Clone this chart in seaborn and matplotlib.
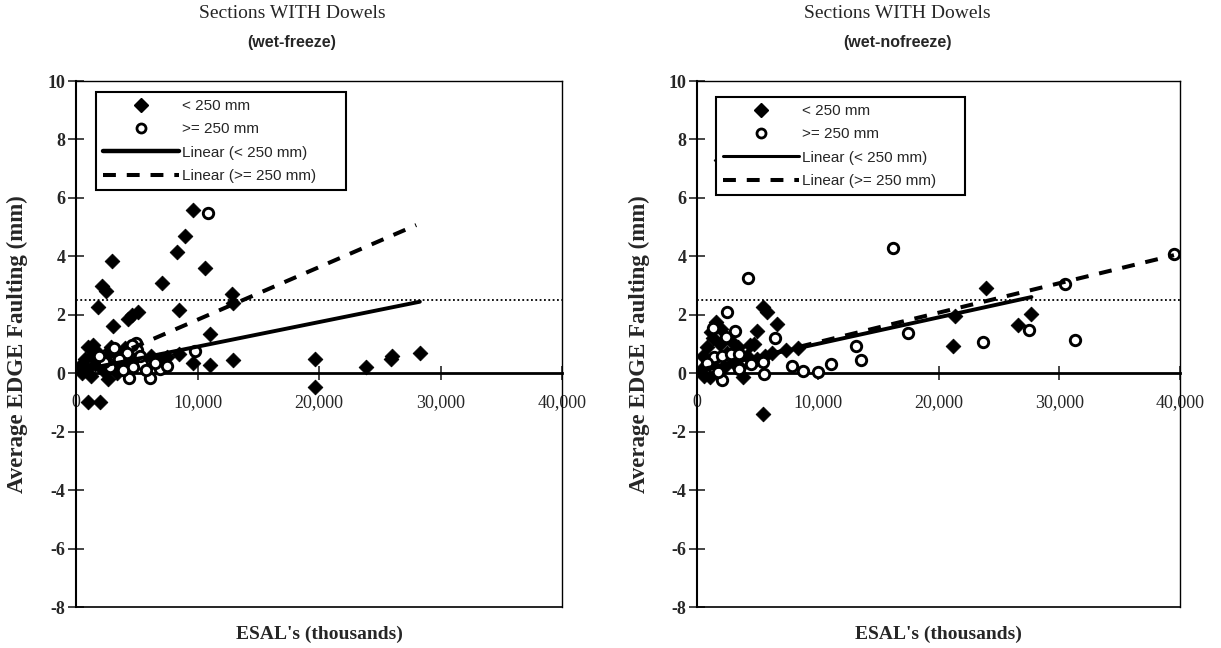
import numpy as np
import pandas as pd
import matplotlib
matplotlib.use("Agg")
import matplotlib.pyplot as plt
from matplotlib.lines import Line2D
from matplotlib.ticker import FuncFormatter, MultipleLocator
import seaborn as sns

# ---- wet-freeze sections (ESALs in thousands, faulting in mm) ----
wf_thin_x = [8.3, 3.0, 10.6, 7.05, 2.15, 2.45, 12.8, 12.95, 1.85, 8.5, 5.1, 4.6, 4.3, 3.05,
             11.0, 1.0, 1.3, 0.9, 9.65, 11.0, 12.9, 19.7, 19.7, 1.0, 2.0, 2.6, 9.0, 9.6,
             23.9, 25.9, 26.0, 28.3, 0.5, 0.7, 1.4, 1.6, 1.8, 2.2, 2.4, 2.8, 3.2, 3.4,
             3.6, 4.0, 4.2, 4.8, 5.5, 6.2, 6.8, 7.5, 8.5, 0.3, 1.2, 2.9, 3.8]
wf_thin_y = [4.15, 3.85, 3.6, 3.1, 3.0, 2.8, 2.7, 2.4, 2.27, 2.15, 2.1, 2.0, 1.87, 1.6,
             1.35, 0.9, 0.6, 0.15, 0.35, 0.27, 0.45, 0.5, -0.47, -1.0, -1.0, -0.2, 4.7, 5.6,
             0.2, 0.5, 0.6, 0.7, 0.0, 0.5, 0.95, 0.3, 0.7, 0.1, 0.5, 0.8, 0.3, 0.0,
             0.6, 0.85, 0.2, 0.4, 0.5, 0.6, 0.45, 0.55, 0.65, 0.25, -0.1, 0.9, 0.45]
wf_thick_x = [10.9, 6.1, 6.9, 7.5, 4.4, 3.9, 4.9, 5.0, 4.6, 4.2, 3.5, 5.4, 5.8, 6.5,
              2.8, 3.1, 2.3, 9.8, 5.3, 1.9, 4.7]
wf_thick_y = [5.5, -0.15, 0.15, 0.25, -0.15, 0.1, 1.05, 0.8, 0.95, 0.7, 0.5, 0.3, 0.1, 0.35,
              0.2, 0.85, 0.4, 0.75, 0.6, 0.6, 0.2]

# ---- wet-nofreeze sections ----
wn_thin_x = [23.9, 21.4, 21.2, 26.6, 27.7, 5.44, 5.44, 5.8, 6.65, 4.94, 1.6, 7.4, 8.4,
             3.8, 1.1, 1.95, 0.3, 0.5, 0.8, 1.0, 1.3, 1.5, 1.9, 2.2, 2.5, 2.8, 3.0, 3.4,
             3.6, 4.1, 4.4, 4.7, 5.0, 5.6, 6.2, 2.0, 1.2, 0.6]
wn_thin_y = [2.93, 1.95, 0.92, 1.64, 2.02, -1.4, 2.27, 2.1, 1.68, 1.45, 1.76, 0.79, 0.88,
             -0.13, -0.13, 7.3, 0.1, 0.6, 0.9, 0.3, 1.2, 0.5, 1.0, 0.2, 0.7, 1.1, 0.4, 0.9,
             0.2, 0.6, 0.95, 1.0, 0.5, 0.6, 0.7, 1.5, 1.4, -0.1]
wn_thick_x = [16.25, 4.25, 2.46, 1.3, 3.15, 6.46, 13.2, 13.6, 11.1, 7.9, 8.75, 10.05, 5.55,
              2.04, 5.5, 17.5, 23.7, 27.5, 31.3, 30.5, 39.5, 1.4, 2.1, 2.8, 3.5, 3.5, 2.4,
              0.8, 1.7, 4.5]
wn_thick_y = [4.3, 3.25, 2.1, 1.55, 1.45, 1.2, 0.92, 0.45, 0.31, 0.24, 0.08, 0.05, -0.02,
              -0.22, 0.4, 1.36, 1.07, 1.47, 1.15, 3.05, 4.07, 0.55, 0.6, 0.65, 0.65, 0.15, 1.25,
              0.35, 0.05, 0.3]

# linear trend lines: intercept (mm), slope (mm per thousand ESALs), x range (thousands)
wf_thin_fit = [0.07, 0.084, 0.3, 28.3]
wf_thick_fit = [0.03, 0.18, 1.0, 28.0]
wn_thin_fit = [0.10, 0.0905, 0.3, 27.7]
wn_thick_fit = [0.05, 0.101, 0.8, 39.5]

threshold = 2.5
panel_titles = ["(wet-freeze)", "(wet-nofreeze)"]
main_title = "Sections WITH Dowels"
legend_labels = ["< 250 mm", ">= 250 mm", "Linear (< 250 mm)", "Linear (>= 250 mm)"]
x_label = "ESAL's (thousands)"
y_label = "Average EDGE Faulting (mm)"

sns.set_style("white")
plt.rcParams["font.family"] = ["Liberation Serif", "DejaVu Serif"]

W, H = 1221, 648
fig = plt.figure(figsize=(W / 100, H / 100), dpi=100)

SERIF = "Liberation Serif"
SANS = "Liberation Sans"
dash_style = (0, (3.2, 2.7))


def fit_frame(fit):
    b0, b1, x0, x1 = fit
    xs = np.array([x0, x1]) * 1000.0
    return pd.DataFrame({"x": xs, "y": b0 + b1 * xs / 1000.0})


def panel(ax, thin_x, thin_y, thick_x, thick_y, thin_fit, thick_fit):
    thin = pd.DataFrame({"x": np.array(thin_x) * 1000.0, "y": thin_y})
    thick = pd.DataFrame({"x": np.array(thick_x) * 1000.0, "y": thick_y})

    ax.axhline(threshold, color="black", lw=1.3, ls=(0, (1, 1.4)), zorder=1)
    sns.scatterplot(data=thin, x="x", y="y", ax=ax, marker="D", color="black",
                    s=56, edgecolor="black", linewidth=0.6, zorder=3, legend=False)
    sns.scatterplot(data=thick, x="x", y="y", ax=ax, marker="o", color="white",
                    s=56, edgecolor="black", linewidth=2.1, zorder=4, legend=False)
    sns.lineplot(data=fit_frame(thin_fit), x="x", y="y", ax=ax, color="black",
                 lw=2.8, zorder=5)
    sns.lineplot(data=fit_frame(thick_fit), x="x", y="y", ax=ax, color="black",
                 lw=2.9, ls=dash_style, zorder=5)

    ax.set_xlim(0, 40000)
    ax.set_ylim(-8, 10)
    ax.xaxis.set_major_locator(MultipleLocator(10000))
    ax.yaxis.set_major_locator(MultipleLocator(2))
    ax.xaxis.set_major_formatter(FuncFormatter(lambda v, p: f"{v:,.0f}"))
    ax.yaxis.set_major_formatter(FuncFormatter(lambda v, p: f"{v:.0f}"))

    for side in ["left", "top", "right", "bottom"]:
        ax.spines[side].set_visible(True)
        ax.spines[side].set_color("black")
    ax.spines["left"].set_linewidth(1.5)
    ax.spines["top"].set_linewidth(1.0)
    ax.spines["right"].set_linewidth(1.0)
    ax.spines["bottom"].set_position(("data", 0))
    ax.spines["bottom"].set_linewidth(2.0)
    # closing line of the plot frame at the lower limit
    ax.plot([0, 1], [0, 0], transform=ax.transAxes, color="black", lw=1.2,
            clip_on=False, zorder=6)

    ax.tick_params(axis="x", direction="inout", length=10, width=1.2, pad=10,
                   labelsize=13, bottom=True)
    ax.tick_params(axis="y", direction="inout", length=11, width=1.2, pad=2,
                   labelsize=13, left=True)
    for t in ax.get_xticklabels():
        t.set_fontfamily(SERIF)
    for t in ax.get_yticklabels():
        t.set_fontfamily(SERIF)
        t.set_fontweight("bold")

    ax.set_xlabel(x_label, fontfamily=SERIF, fontweight="bold", fontsize=14)
    ax.xaxis.set_label_coords(0.5, -0.036)
    ax.set_ylabel(y_label, fontfamily=SERIF, fontweight="bold", fontsize=16.5)
    ax.grid(False)


ax1 = fig.add_axes([76 / W, 41 / H, 486 / W, 526 / H])
ax2 = fig.add_axes([697 / W, 41 / H, 483 / W, 526 / H])

panel(ax1, wf_thin_x, wf_thin_y, wf_thick_x, wf_thick_y, wf_thin_fit, wf_thick_fit)
panel(ax2, wn_thin_x, wn_thin_y, wn_thick_x, wn_thick_y, wn_thin_fit, wn_thick_fit)
ax1.yaxis.set_label_coords(-0.098, 0.5)
ax2.yaxis.set_label_coords(-0.098, 0.5)


def add_legend(ax, x0, y_top, width, solid_lw):
    handles = [
        Line2D([], [], marker="D", color="black", ls="none", markersize=7),
        Line2D([], [], marker="o", color="black", mfc="white", mew=2.0, ls="none",
               markersize=6.5),
        Line2D([], [], color="black", lw=solid_lw),
        Line2D([], [], color="black", lw=2.9, ls=dash_style),
    ]
    leg = ax.legend(handles, legend_labels, loc="upper left", mode="expand",
                    bbox_to_anchor=(x0, y_top - 0.3, width, 0.3),
                    prop={"family": SANS, "size": 11}, frameon=True,
                    fancybox=False, edgecolor="black", framealpha=1.0,
                    borderpad=0.45, labelspacing=0.62, handlelength=5.0,
                    handletextpad=0.2, borderaxespad=0.0)
    leg.get_frame().set_linewidth(1.5)
    leg.set_zorder(10)
    return leg


add_legend(ax1, 20 / 486, 1 - 11 / 526, 250 / 486, 3.2)
add_legend(ax2, 19 / 483, 1 - 16 / 526, 249 / 483, 2.2)

for cx, sub in zip([292, 897], panel_titles):
    fig.text(cx / W, 1 - 14 / H, main_title, ha="center", va="center",
             fontfamily=SERIF, fontsize=14)
    fig.text(cx / W, 1 - 42 / H, sub, ha="center", va="center",
             fontfamily=SANS, fontsize=11.5, fontweight="bold")

fig.savefig("out.png", dpi=100, facecolor="white")
